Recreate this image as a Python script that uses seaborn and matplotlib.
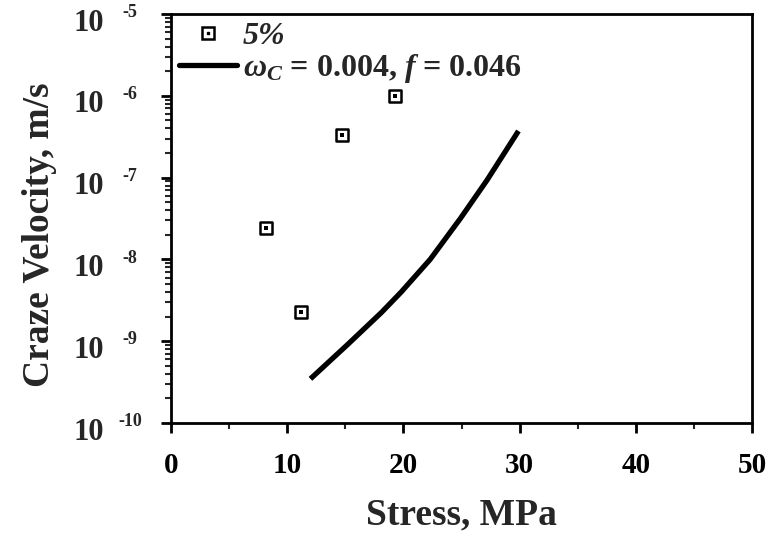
import numpy as np
import pandas as pd
import matplotlib
matplotlib.use("Agg")
import matplotlib.pyplot as plt
import seaborn as sns
from matplotlib.ticker import FixedLocator, NullFormatter, LogLocator, MultipleLocator
from matplotlib.legend_handler import HandlerTuple
from matplotlib.lines import Line2D

# data
stress_pts = [8.2, 11.2, 14.7, 19.3]
velocity_pts = [2.45e-8, 2.3e-9, 3.3e-7, 1.0e-6]
curve_stress = [12.0, 15.2, 18.1, 19.8, 22.3, 24.9, 27.2, 29.9]
curve_logv = [-9.46, -9.04, -8.65, -8.40, -8.00, -7.50, -7.03, -6.43]
curve_velocity = [10 ** v for v in curve_logv]
xticks = [0, 10, 20, 30, 40, 50]
yexps = [-10, -9, -8, -7, -6, -5]

sns.set_theme(style="ticks")
plt.rcParams['font.family'] = ['Liberation Serif', 'DejaVu Serif']
plt.rcParams['font.weight'] = 'bold'
plt.rcParams['mathtext.fontset'] = 'custom'
plt.rcParams['mathtext.rm'] = 'Liberation Serif:bold'
plt.rcParams['mathtext.bf'] = 'Liberation Serif:bold'
plt.rcParams['mathtext.it'] = 'Liberation Serif:bold:italic'

fig = plt.figure(figsize=(7.69, 5.35), dpi=100)
ax = fig.add_axes([0.2224, 0.2093, 0.7555, 0.7645])

pts = pd.DataFrame({"stress": stress_pts, "velocity": velocity_pts})
cur = pd.DataFrame({"stress": curve_stress, "velocity": curve_velocity})

sns.lineplot(data=cur, x="stress", y="velocity", ax=ax, color="black", lw=3.8,
             solid_capstyle="butt", estimator=None, sort=False)
sns.scatterplot(data=pts, x="stress", y="velocity", ax=ax, marker="s", s=75,
                facecolor="white", edgecolor="black", linewidth=1.8, zorder=5)
sns.scatterplot(data=pts, x="stress", y="velocity", ax=ax, marker="s", s=5,
                color="black", linewidth=0, zorder=6)

ax.set_yscale("log")
ax.set_xlim(0, 50)
ax.set_ylim(1e-10, 1e-5)

ax.xaxis.set_major_locator(FixedLocator(xticks))
ax.xaxis.set_minor_locator(MultipleLocator(5))
ax.yaxis.set_major_locator(FixedLocator([10.0 ** e for e in yexps]))
ax.yaxis.set_minor_locator(LogLocator(base=10, subs=np.arange(2, 10), numticks=20))
ax.yaxis.set_major_formatter(NullFormatter())
ax.yaxis.set_minor_formatter(NullFormatter())

ax.tick_params(axis="both", which="major", direction="out", length=7, width=2,
               labelsize=21, colors="black", pad=14)
ax.tick_params(axis="both", which="minor", direction="out", length=4, width=1.5)
for lab in ax.get_xticklabels():
    lab.set_fontweight("bold")
for s in ax.spines.values():
    s.set_linewidth(2)
    s.set_color("black")
    s.set_visible(True)

# y tick labels "10" with raised exponent
for e in yexps:
    ax.annotate("10", xy=(0, 10.0 ** e), xycoords=("axes fraction", "data"),
                xytext=(-48, -6.5), textcoords="offset points", ha="right",
                va="center", fontsize=22, fontweight="bold", annotation_clip=False)
    ax.annotate("-%d" % abs(e), xy=(0, 10.0 ** e), xycoords=("axes fraction", "data"),
                xytext=(-29.5, 1.0), textcoords="offset points", ha="center",
                va="center", fontsize=13, fontweight="bold", annotation_clip=False)

ax.set_xlabel("Stress, MPa", fontsize=27, fontweight="bold", labelpad=13)
ax.set_ylabel("Craze Velocity, m/s", fontsize=27, fontweight="bold")
ax.yaxis.set_label_coords(-0.196, 0.46)

h1 = (Line2D([], [], marker="s", ls="none", markersize=8.5, markerfacecolor="white",
             markeredgecolor="black", markeredgewidth=1.8),
      Line2D([], [], marker="s", ls="none", markersize=2, color="black"))
h2 = Line2D([], [], color="black", lw=3.8)
leg = ax.legend([h1, h2], ["5%", r"$\omega_C$ = 0.004, $f$ = 0.046"],
                handler_map={tuple: HandlerTuple(ndivide=1, pad=0)},
                loc="upper left", frameon=False, fontsize=23, handlelength=1.8,
                borderaxespad=0.0, borderpad=0.25, handletextpad=0.2,
                labelspacing=0.02)
leg.get_texts()[0].set_fontstyle("italic")

fig.savefig("out.png", dpi=100)
